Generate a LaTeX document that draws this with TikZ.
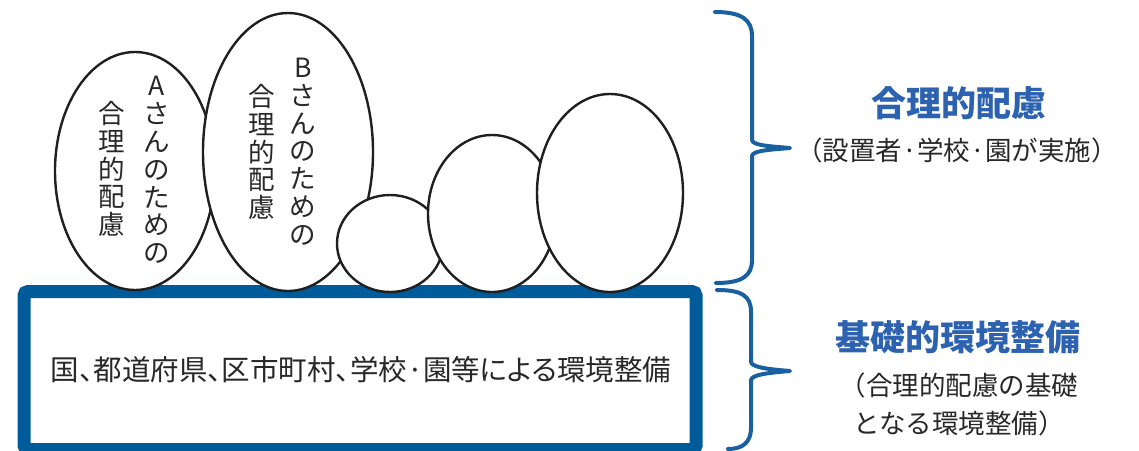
\documentclass[tikz,border=0pt]{standalone}
\usepackage{fontspec}
\usetikzlibrary{shapes.geometric}
\setmainfont{Noto Sans CJK JP}
\newfontfamily\jp{Noto Sans CJK JP}
\newfontfamily\jpp[RawFeature=+palt]{Noto Sans CJK JP}
\definecolor{boxblue}{RGB}{0,91,155}
\definecolor{braceblue}{RGB}{26,95,160}
\definecolor{titleblue}{RGB}{45,98,176}
\definecolor{textgray}{RGB}{40,40,40}
\tikzset{
  bubble/.style={draw=black!88, line width=2.4pt, fill=white},
  vcol/.style={inner sep=0pt, align=center, text=textgray, font=\jp\fontsize{26.5}{27.8}\selectfont},
  bracepath/.style={draw=braceblue, line width=4pt, line cap=round, line join=round},
  titletext/.style={inner sep=0pt, text=titleblue, font=\jp\bfseries\fontsize{35}{38}\selectfont},
  subtext/.style={inner sep=0pt, align=center, text=textgray, font=\jp\fontsize{26.5}{38}\selectfont},
}
\begin{document}
\begin{tikzpicture}[x=1pt,y=-1pt]
\useasboundingbox (0,0) rectangle (1139,450);
\clip (0,0) rectangle (1139,450);
% base box
\node[draw=boxblue, line width=13pt, rounded corners=4pt, outer sep=0pt, minimum width=672pt, minimum height=158pt, inner sep=0pt, anchor=north west] (base) at (24,291.5) {};
\node[inner sep=0pt, text=textgray, font=\jpp\fontsize{28.5}{30}\selectfont] (basetext) at (361,370) {国、都道府県、区市町村、学校·園等による環境整備};
% bubbles
\node[bubble, ellipse, minimum width=160pt, minimum height=238pt, inner sep=0pt] (ea) at (135,171) {};
\node[bubble, ellipse, minimum width=170pt, minimum height=278pt, inner sep=0pt] (eb) at (288,152) {};
\node[bubble, ellipse, minimum width=106pt, minimum height=97pt, inner sep=0pt] (ec) at (390,243.5) {};
\node[bubble, ellipse, minimum width=128pt, minimum height=157pt, inner sep=0pt] (ed) at (492,213.5) {};
\node[bubble, ellipse, minimum width=146pt, minimum height=198pt, inner sep=0pt] (ee) at (610,193) {};
% bubble texts
\node[vcol] (ta1) at (157,170) {A\\さ\\ん\\の\\た\\め\\の};
\node[vcol] (ta2) at (112,169) {合\\理\\的\\配\\慮};
\node[vcol] (tb1) at (303,151.5) {B\\さ\\ん\\の\\た\\め\\の};
\node[vcol] (tb2) at (262,152) {合\\理\\的\\配\\慮};
% braces
\draw[bracepath] (715,12) .. controls (742,12) and (752,20) .. (752,36) -- (752,140)
  .. controls (753,145) and (765,146) .. (790,148)
  .. controls (765,150) and (753,151) .. (752,156) -- (752,260)
  .. controls (752,276) and (742,283) .. (716,283);
\draw[bracepath] (717,290) .. controls (742,290) and (751,296) .. (751,312) -- (751,362)
  .. controls (752,367) and (765,369) .. (790,371)
  .. controls (765,373) and (752,375) .. (751,380) -- (751,428)
  .. controls (751,442) and (743,449) .. (728,449);
% labels
\node[titletext] (t1) at (959,103) {合理的配慮};
\node[subtext] (s1) at (957,150) {（設置者·学校·園が実施）};
\node[titletext] (t2) at (958,337) {基礎的環境整備};
\node[subtext] (s2) at (959,404) {（合理的配慮の基礎\\となる環境整備）};
\end{tikzpicture}
\end{document}
